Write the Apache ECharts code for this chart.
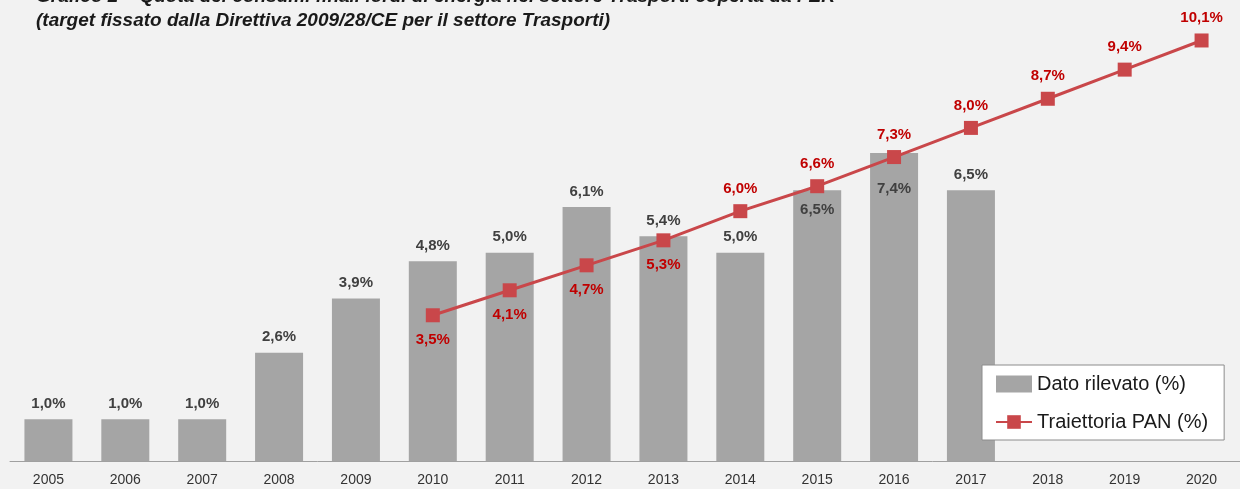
<!DOCTYPE html>
<html>
<head>
<meta charset="utf-8">
<script src="https://cdn.jsdelivr.net/npm/echarts@6/dist/echarts.min.js"></script>
<style>
  html, body { margin: 0; padding: 0; background: #f2f2f2; }
  #chart { width: 1240px; height: 489px; }
</style>
</head>
<body>
<div id="chart"></div>
<script>
  const years = ['2005', '2006', '2007', '2008', '2009', '2010', '2011', '2012',
    '2013', '2014', '2015', '2016', '2017', '2018', '2019', '2020'];
  const datoRilevato = [1.0, 1.0, 1.0, 2.6, 3.9, 4.8, 5.0, 6.1, 5.4, 5.0, 6.5, 7.4, 6.5, null, null, null];
  const traiettoriaPan = [null, null, null, null, null, 3.5, 4.1, 4.7, 5.3, 6.0, 6.6, 7.3, 8.0, 8.7, 9.4, 10.1];

  // labels moved inside the bar / under the line to avoid overlap
  const barLabelInside = { '2015': 12, '2016': 28 };
  const lineLabelBelow = ['2010', '2011', '2012', '2013'];

  const fmt = (p) => p.value.toFixed(1).replace('.', ',') + '%';
  const font = 'Liberation Sans';

  const chart = echarts.init(document.getElementById('chart'));

  const option = {
    backgroundColor: '#f2f2f2',
    textStyle: { fontFamily: font },
    title: {
      text: 'Grafico 2 – Quota dei consumi finali lordi di energia nel settore Trasporti coperta da FER\n(target fissato dalla Direttiva 2009/28/CE per il settore Trasporti)',
      left: 36,
      top: -15,
      padding: 0,
      textStyle: {
        fontFamily: font,
        fontSize: 19,
        fontWeight: 'bold',
        fontStyle: 'italic',
        lineHeight: 24,
        color: '#1a1a1a'
      }
    },
    legend: {
      orient: 'vertical',
      left: 982,
      top: 365,
      padding: [9, 16, 8, 13],
      itemGap: 18,
      itemWidth: 36,
      itemHeight: 17,
      backgroundColor: '#ffffff',
      borderColor: '#8c8c8c',
      borderWidth: 1,
      textStyle: { fontFamily: font, fontSize: 20, color: '#1a1a1a' },
      data: [
        { name: 'Dato rilevato (%)', icon: 'rect' },
        { name: 'Traiettoria PAN (%)' }
      ]
    },
    grid: { left: 10, right: -7, top: 3, bottom: 28 },
    xAxis: {
      type: 'category',
      data: years,
      axisLine: { lineStyle: { color: '#a0a0a0' } },
      axisTick: { length: 5, lineStyle: { color: '#a0a0a0' } },
      axisLabel: { fontFamily: font, fontSize: 14, color: '#333', margin: 12 }
    },
    yAxis: {
      type: 'value',
      min: 0,
      max: 11,
      show: false,
      splitLine: { show: false }
    },
    series: [
      {
        name: 'Dato rilevato (%)',
        type: 'bar',
        barWidth: 48,
        itemStyle: { color: '#a5a5a5' },
        data: datoRilevato.map((v, i) => ({
          value: v,
          label: years[i] in barLabelInside
            ? { position: 'insideTop', distance: barLabelInside[years[i]] }
            : undefined
        })),
        label: {
          show: true,
          position: 'top',
          distance: 8,
          fontFamily: font,
          fontSize: 15,
          fontWeight: 'bold',
          color: '#404040',
          formatter: fmt
        }
      },
      {
        name: 'Traiettoria PAN (%)',
        type: 'line',
        symbol: 'rect',
        symbolSize: 14,
        lineStyle: { color: '#c9474a', width: 3 },
        itemStyle: { color: '#c9474a' },
        data: traiettoriaPan.map((v, i) => ({
          value: v,
          label: lineLabelBelow.includes(years[i]) ? { position: 'bottom', distance: 10 } : undefined
        })),
        label: {
          show: true,
          position: 'top',
          distance: 8,
          fontFamily: font,
          fontSize: 15,
          fontWeight: 'bold',
          color: '#c00000',
          formatter: fmt
        }
      }
    ]
  };

  chart.setOption(option);
</script>
</body>
</html>
